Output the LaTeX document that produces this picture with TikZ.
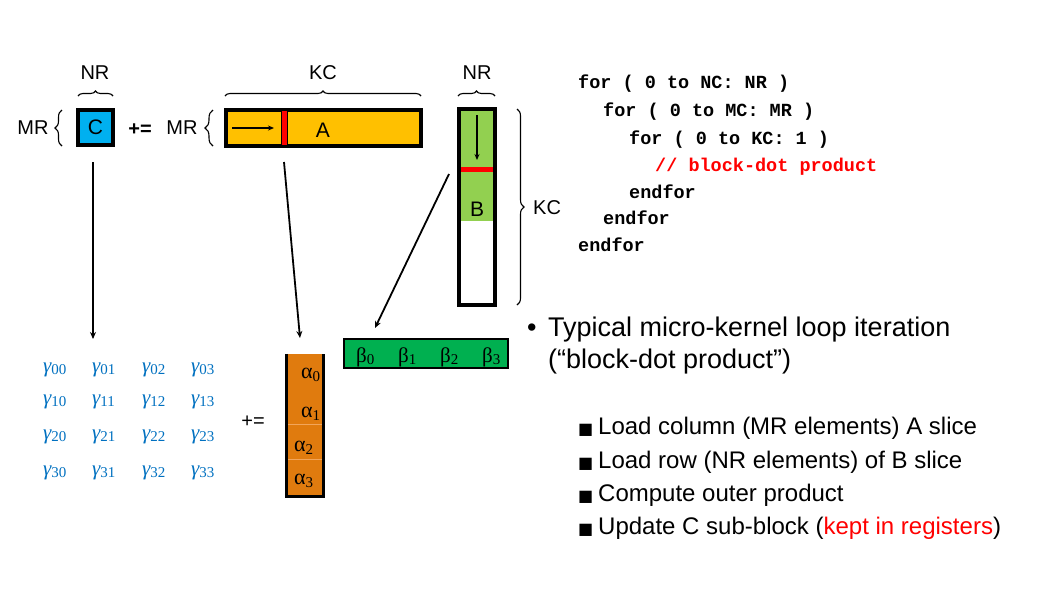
\documentclass[tikz,border=0pt]{standalone}
\usepackage{fontspec}
\setmainfont{Liberation Sans}
\newfontfamily\codefont{Liberation Mono}
\newfontfamily\grkfont{Liberation Serif}
\newfontfamily\symfont{DejaVu Sans}
\usetikzlibrary{arrows.meta,decorations.pathreplacing}
\definecolor{cblue}{HTML}{00B0F0}
\definecolor{ayellow}{HTML}{FFC000}
\definecolor{bgreen}{HTML}{92D050}
\definecolor{betagreen}{HTML}{00B050}
\definecolor{alphaorange}{HTML}{E07B0E}
\definecolor{alphaline}{HTML}{F2A55A}
\definecolor{gblue}{HTML}{0070C0}
\definecolor{kred}{HTML}{FF0000}
% register entries with lowered indices
\newcommand\gammaentry[1]{{\itshape γ}\raisebox{-2pt}{\fontsize{15}{15}\selectfont #1}}
\newcommand\alphaentry[1]{α\raisebox{-3pt}{\fontsize{15}{15}\selectfont #1}}
\newcommand\betaentry[1]{β\raisebox{-2pt}{\fontsize{15}{15}\selectfont #1}}

\begin{document}
\begin{tikzpicture}[x=1pt,y=-1pt,
  lbl/.style={font=\fontsize{20}{24}\selectfont, inner sep=0pt, anchor=base},
  brc/.style={decorate, decoration={brace, amplitude=#1}, line width=1.1pt},
  brc/.default=5pt,
  link/.style={line width=1.8pt, -{Stealth[length=7pt,width=6pt]}},
  inarrow/.style={line width=1.3pt, -{Stealth[length=6pt,width=5pt]}},
  code/.style={font=\codefont\bfseries\fontsize{18.5}{20}\selectfont, anchor=base west, inner sep=0pt},
  gam/.style={font=\grkfont\fontsize{21}{24}\selectfont, text=gblue, anchor=base west, inner sep=0pt},
  grk/.style={font=\grkfont\fontsize{22}{24}\selectfont, anchor=base west, inner sep=0pt},
  mainpt/.style={font=\fontsize{27}{30}\selectfont, anchor=base west, inner sep=0pt},
  subpt/.style={font=\fontsize{24}{28}\selectfont, anchor=base west, inner sep=0pt},
  sq/.style={font=\symfont\fontsize{16}{18}\selectfont, anchor=base west, inner sep=0pt},
]
\useasboundingbox (0,0) rectangle (1050,590);

% ---------- C micro-tile ----------
\node[draw, line width=3.5pt, fill=cblue, minimum width=35pt, minimum height=35pt,
      inner sep=0pt, font=\fontsize{21}{24}\selectfont] (C) at (95.5,127.5) {C};
\draw[brc] (78,96) -- (113,96);
\node[lbl] (nrC) at (95,79) {NR};
\draw[brc=7pt] (62,146) -- (62,110);
\node[lbl] (mrC) at (33,134) {MR};

\node[lbl, font=\bfseries\fontsize{20}{24}\selectfont] (pluseq) at (140,135) {+=};

% ---------- A micro-panel ----------
\node[draw, line width=4pt, fill=ayellow, minimum width=195pt, minimum height=36pt,
      inner sep=0pt] (Abox) at (323.5,128) {};
\node[draw=black, line width=1pt, fill=red, minimum width=6pt, minimum height=35pt,
      inner sep=0pt] (Astrip) at (284,128) {};
\node[lbl, font=\fontsize{21}{24}\selectfont] (Alabel) at (323,137) {A};
\coordinate (Ain0) at (232,128);
\coordinate (Ain1) at (274,128);
\draw[inarrow] (Ain0) -- (Ain1);
\draw[brc] (225,96) -- (421,96);
\node[lbl] (kcA) at (323,79) {KC};
\draw[brc=8pt] (213,146) -- (213,110);
\node[lbl] (mrA) at (182,134) {MR};

% ---------- B micro-panel ----------
\fill[bgreen] (461,111) rectangle (493,221);
\fill[red] (461,167) rectangle (493,172);
\node[draw, line width=4pt, minimum width=36pt, minimum height=196pt,
      inner sep=0pt] (Bcol) at (477,207) {};
\node[lbl, font=\fontsize{21}{24}\selectfont] (Blabel) at (477,216) {B};
\coordinate (Bin0) at (477,115);
\coordinate (Bin1) at (477,160);
\draw[inarrow] (Bin0) -- (Bin1);
\draw[brc] (458,96) -- (495,96);
\node[lbl] (nrB) at (477,79) {NR};
\draw[brc=7pt] (517,109) -- (517,305);
\node[lbl, anchor=base west] (kcB) at (533,214) {KC};

% ---------- loop nest ----------
\node[code] (l1) at (578,88)  {for ( 0 to NC: NR )};
\node[code] (l2) at (603,116) {for ( 0 to MC: MR )};
\node[code] (l3) at (629,144) {for ( 0 to KC: 1 )};
\node[code, text=kred] (l4) at (655,171) {// block-dot product};
\node[code] (l5) at (629,198) {endfor};
\node[code] (l6) at (603,224) {endfor};
\node[code] (l7) at (578,251) {endfor};

% ---------- registers ----------
\foreach \r/\yb in {0/372,1/404,2/439,3/475}{
  \foreach \c/\xb in {0/43,1/92,2/142,3/191}{
    \node[gam] (g\r\c) at (\xb,\yb) {\gammaentry{\r\c}};
  }
}
\node[lbl] (pluseq2) at (253,427) {+=};

\node[fill=alphaorange, minimum width=36pt, minimum height=142pt, inner sep=0pt] (acol) at (305,425) {};
\draw[alphaline, line width=0.8pt] (acol.west |- 0,424) -- (acol.east |- 0,424);
\draw[alphaline, line width=0.8pt] (acol.west |- 0,459) -- (acol.east |- 0,459);
\draw[line width=3pt] (acol.north west) -- (acol.south west) -- (acol.south east) -- (acol.north east);
\node[grk] (a0) at (301,378) {\alphaentry{0}};
\node[grk] (a1) at (301,417) {\alphaentry{1}};
\node[grk] (a2) at (294,451) {\alphaentry{2}};
\node[grk] (a3) at (294,484) {\alphaentry{3}};

\node[draw, line width=1.3pt, fill=betagreen, minimum width=164pt, minimum height=29pt,
      inner sep=0pt] (bbar) at (426,353.5) {};
\foreach \i/\xb in {0/356,1/398,2/440,3/482}{
  \node[grk, font=\grkfont\fontsize{21}{22}\selectfont] (b\i) at (\xb,362) {\betaentry{\i}};
}

% ---------- data movement ----------
\coordinate (Cout) at (93,162);
\coordinate (Gin) at (93,339);
\draw[link] (Cout) -- (Gin);
\coordinate (Aout) at (284,162);
\coordinate (Ain) at (300,338);
\draw[link] (Aout) -- (Ain);
\coordinate (Bout) at (449,174);
\coordinate (Bin) at (375,328);
\draw[link] (Bout) -- (Bin);

% ---------- notes ----------
\node[mainpt] (dot) at (527,336) {•};
\node[mainpt] (t1) at (548,336) {Typical micro-kernel loop iteration};
\node[mainpt] (t2) at (548,368) {(“block-dot product”)};
\foreach \k/\yb/\txt in {1/434/{Load column (MR elements) A slice},
                         2/468/{Load row (NR elements) of B slice},
                         3/501/{Compute outer product},
                         4/534/{Update C sub-block (\textcolor{kred}{kept in registers})}}{
  \node[sq] (sq\k) at (578,\yb) {■};
  \node[subpt] (s\k) at (598,\yb) {\txt};
}
\end{tikzpicture}
\end{document}
